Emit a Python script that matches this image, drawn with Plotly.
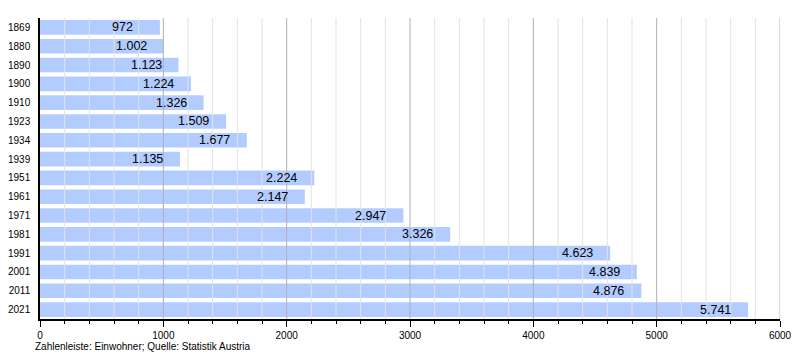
import plotly.graph_objects as go

years = ["1869", "1880", "1890", "1900", "1910", "1923", "1934", "1939",
         "1951", "1961", "1971", "1981", "1991", "2001", "2011", "2021"]
population = [972, 1002, 1123, 1224, 1326, 1509, 1677, 1135,
              2224, 2147, 2947, 3326, 4623, 4839, 4876, 5741]
x_ticks = [0, 1000, 2000, 3000, 4000, 5000, 6000]
caption = "Zahlenleiste: Einwohner; Quelle: Statistik Austria"

FONT = "Liberation Sans, Arial, sans-serif"

# The page body has an 8px margin, so the figure is drawn 8px in from the
# window's top-left corner; size/margins are chosen for that.
OFF = 8
W, H = 800 - 2 * OFF, 360 - 2 * OFF
ML, MT = 40 - OFF, 18 - OFF
MR = W - (780 - OFF)
MB = H - (319 - OFF)
plot_w = W - ML - MR
plot_h = H - MT - MB


def de_fmt(v):
    return f"{v:,}".replace(",", ".")


fig = go.Figure()
fig.add_trace(go.Bar(
    y=years, x=population, orientation="h",
    marker=dict(color="#b3ccff", line=dict(width=0)),
    hoverinfo="skip",
))

# Grid lines drawn above bars (as in reference)
shapes = []
for v in range(200, 6001, 200):
    major = v % 1000 == 0
    shapes.append(dict(
        type="line", xref="x", yref="paper", x0=v, x1=v, y0=0, y1=1,
        line=dict(color="#b0b0b0" if major else "#e2e2e2", width=1),
        layer="above",
    ))

annotations = []
for i, v in enumerate(population):
    annotations.append(dict(
        x=v, y=i, xref="x", yref="y", text=de_fmt(v), showarrow=False,
        xanchor="left", xshift=-50, font=dict(family=FONT, size=12.5, color="#000"),
    ))
annotations.append(dict(
    x=(35 - 40) / plot_w, y=(319 - 352) / plot_h,
    xref="paper", yref="paper", text=caption, showarrow=False,
    font=dict(family=FONT, size=10, color="#000"),
    xanchor="left", yanchor="bottom", borderpad=0, borderwidth=0,
))

fig.update_layout(
    width=W, height=H,
    margin=dict(l=ML, r=MR, t=MT, b=MB, autoexpand=False),
    paper_bgcolor="white", plot_bgcolor="white",
    showlegend=False,
    bargap=0.22,
    shapes=shapes,
    annotations=annotations,
    font=dict(family=FONT, size=10, color="#000"),
    xaxis=dict(
        range=[0, 6000], tickvals=x_ticks, ticktext=[str(t) for t in x_ticks],
        showgrid=False, zeroline=False, automargin=False,
        showline=True, linecolor="#000", linewidth=1.5,
        ticks="outside", ticklen=6, tickcolor="#000", tickwidth=1,
        minor=dict(dtick=200, tick0=0, ticks="outside", ticklen=3, tickcolor="#000", showgrid=False),
        tickfont=dict(family=FONT, size=10, color="#000"),
        fixedrange=True,
    ),
    yaxis=dict(
        type="category",
        range=[len(years) - 0.5, -0.5],
        categoryorder="array", categoryarray=years,
        showgrid=False, zeroline=False, automargin=False,
        showline=True, linecolor="#000", linewidth=1.5,
        ticks="", ticklabelstandoff=6,
        tickfont=dict(family=FONT, size=10, color="#000"),
        fixedrange=True,
    ),
)

fig.write_html("out.html")
